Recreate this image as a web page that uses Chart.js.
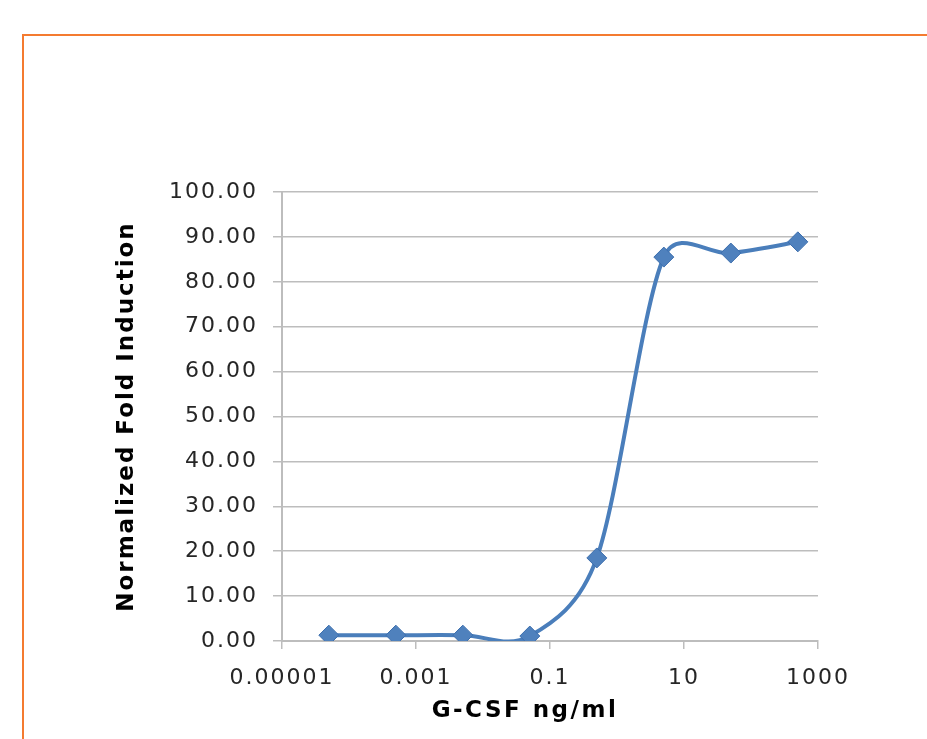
<!DOCTYPE html>
<html>
<head>
<meta charset="utf-8">
<script src="https://cdn.jsdelivr.net/npm/chart.js@4/dist/chart.umd.min.js"></script>
<style>
  html, body { margin: 0; padding: 0; background: #ffffff; overflow: hidden; }
  #wrap { position: relative; width: 927px; height: 739px; }
  #frame { position: absolute; left: 22px; top: 34px; width: 1000px; height: 1000px;
           border-left: 2px solid #f47b30; border-top: 2px solid #f47b30; }
  canvas { position: absolute; left: 0; top: 0; }
</style>
</head>
<body>
<div id="wrap">
  <div id="frame"></div>
  <canvas id="c" width="927" height="739"></canvas>
</div>
<script>
// ---- data ----
const concentrations = [0.00005, 0.0005, 0.005, 0.05, 0.5, 5, 50, 500];
const foldInduction = [1.3, 1.3, 1.3, 1.1, 18.5, 85.5, 86.4, 88.9];
const xTickValues = [0.00001, 0.001, 0.1, 10, 1000];
const xTickLabels = ["0.00001", "0.001", "0.1", "10", "1000"];
const xTitle = "G-CSF ng/ml";
const yTitle = "Normalized Fold Induction";

const FONT = "'DejaVu Sans', Verdana, sans-serif";
const GRID = '#bdbdbd';

const spacingPlugin = {
  id: 'spacing',
  beforeInit(chart) { chart.ctx.letterSpacing = '2px'; },
  beforeUpdate(chart) { chart.ctx.letterSpacing = '2px'; },
  beforeDraw(chart) { chart.ctx.letterSpacing = '2px'; }
};

// Spreadsheet-style smoothing: tangent = (next - prev) / 6, limited to half of each adjacent segment
const smoothPlugin = {
  id: 'sheetSmooth',
  beforeDatasetsDraw(chart) {
    chart.data.datasets.forEach((ds, di) => {
      const meta = chart.getDatasetMeta(di);
      const line = meta.dataset;
      const pts = meta.data;
      if (line && line.updateControlPoints) line.updateControlPoints(chart.chartArea, meta.indexAxis);
      const n = pts.length;
      for (let i = 0; i < n; i++) {
        const p = pts[i];
        const prev = pts[Math.max(i - 1, 0)];
        const next = pts[Math.min(i + 1, n - 1)];
        const tx = (next.x - prev.x) / 6, ty = (next.y - prev.y) / 6;
        const tl = Math.hypot(tx, ty) || 1;
        const dPrev = Math.hypot(p.x - prev.x, p.y - prev.y);
        const dNext = Math.hypot(next.x - p.x, next.y - p.y);
        const s1 = Math.min(1, 0.5 * dPrev / tl);
        const s2 = Math.min(1, 0.5 * dNext / tl);
        p.cp1x = p.x - tx * s1; p.cp1y = p.y - ty * s1;
        p.cp2x = p.x + tx * s2; p.cp2y = p.y + ty * s2;
      }
      if (line) { line._pointsUpdated = true; line._path = undefined; }
    });
  }
};

const xTitlePlugin = {
  id: 'xTitle',
  afterDraw(chart) {
    const ctx = chart.ctx;
    ctx.save();
    ctx.letterSpacing = '2.5px';
    ctx.font = "bold 23px " + FONT;
    ctx.fillStyle = '#000000';
    ctx.textAlign = 'center';
    ctx.textBaseline = 'middle';
    ctx.fillText(xTitle, 525, 711);
    ctx.restore();
  }
};

new Chart(document.getElementById('c'), {
  type: 'line',
  data: {
    datasets: [{
      label: 'G-CSF',
      data: concentrations.map((x, i) => ({ x: x, y: foldInduction[i] })),
      borderColor: '#4a7ebb',
      borderWidth: 4,
      tension: 0.4,
      pointStyle: 'rectRot',
      pointRadius: 10,
      pointHoverRadius: 10,
      pointBackgroundColor: '#4f81bd',
      pointBorderColor: '#3d6fae',
      pointBorderWidth: 1,
      fill: false
    }]
  },
  plugins: [spacingPlugin, smoothPlugin, xTitlePlugin],
  options: {
    responsive: false,
    animation: false,
    devicePixelRatio: 1,
    layout: { padding: { left: 0, top: 192, right: 109, bottom: 0 } },
    plugins: { legend: { display: false }, tooltip: { enabled: false }, title: { display: false } },
    scales: {
      x: {
        type: 'logarithmic',
        min: 0.00001,
        max: 1000,
        afterBuildTicks(scale) {
          scale.ticks = xTickValues.map(v => ({ value: v }));
        },
        afterFit(scale) { scale.height = 98; },
        ticks: {
          autoSkip: false,
          maxRotation: 0,
          padding: 16,
          color: '#262626',
          font: { family: FONT, size: 22 },
          callback: function (value) {
            const i = xTickValues.findIndex(v => Math.abs(Math.log10(v) - Math.log10(value)) < 1e-6);
            return i >= 0 ? xTickLabels[i] : '';
          }
        },
        grid: { drawOnChartArea: false, drawTicks: true, tickLength: 8, color: GRID, lineWidth: 1.5 },
        border: { display: true, color: GRID, width: 2 },
        title: { display: false }
      },
      y: {
        min: 0,
        max: 100,
        afterFit(scale) { scale.width = 282; },
        ticks: {
          stepSize: 10,
          padding: 15,
          color: '#262626',
          font: { family: FONT, size: 22 },
          callback: v => Number(v).toFixed(2)
        },
        grid: { color: GRID, lineWidth: 1.5, tickLength: 9, drawTicks: true },
        border: { display: true, color: GRID, width: 2 },
        title: {
          display: true,
          text: yTitle,
          color: '#000000',
          font: { family: FONT, size: 23, weight: 'bold' },
          padding: { top: 113, bottom: 0 }
        }
      }
    }
  }
});
</script>
</body>
</html>
